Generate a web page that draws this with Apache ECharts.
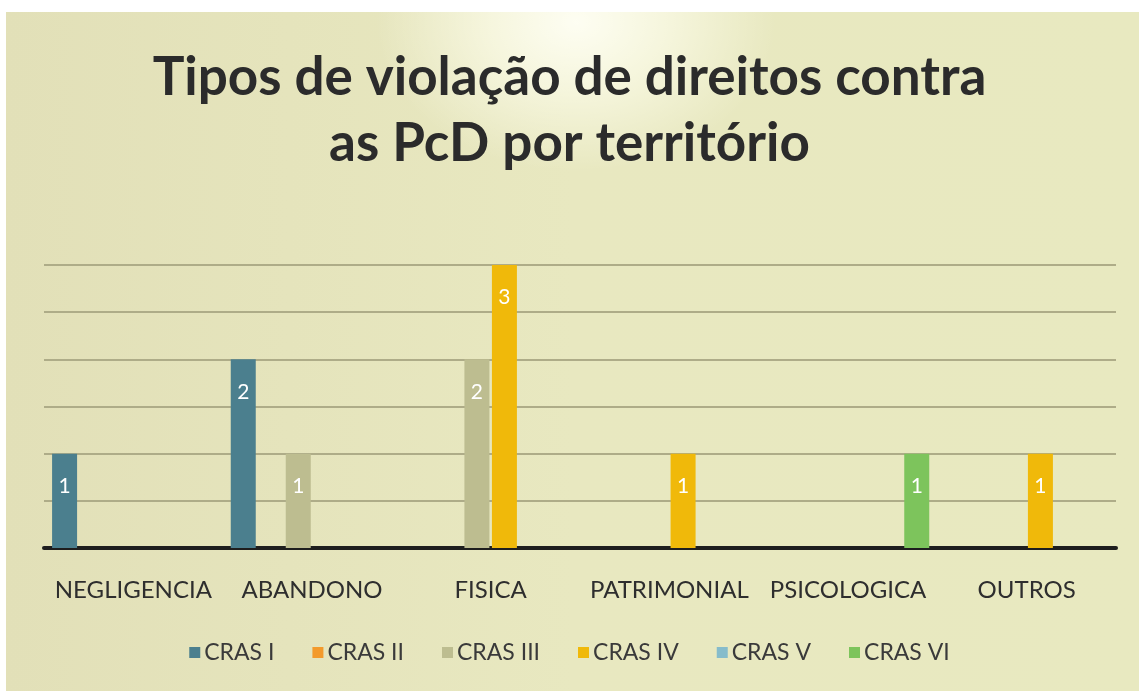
<!DOCTYPE html>
<html>
<head>
<meta charset="utf-8">
<script src="https://cdn.jsdelivr.net/npm/echarts@6/dist/echarts.min.js"></script>
<style>
html,body{margin:0;padding:0;background:#ffffff;width:1139px;height:691px;overflow:hidden;}
#bg{position:absolute;left:6px;top:12px;width:1133px;height:679px;
 background:
  radial-gradient(ellipse 200px 150px at 570px 10px, rgba(255,255,245,0.95) 0%, rgba(255,255,240,0.6) 45%, rgba(255,255,240,0) 100%),
  linear-gradient(90deg, #e2e0b8 0%, #e8e8c0 50%, #e8e9c0 100%);}
#chart{position:absolute;left:0;top:0;width:1139px;height:691px;}
</style>
</head>
<body>
<div id="bg"></div>
<div id="chart"></div>
<script>
const categories = ['NEGLIGENCIA', 'ABANDONO', 'FISICA', 'PATRIMONIAL', 'PSICOLOGICA', 'OUTROS'];
const seriesNames = ['CRAS I', 'CRAS II', 'CRAS III', 'CRAS IV', 'CRAS V', 'CRAS VI'];
const crasI   = [1, 2, null, null, null, null];
const crasII  = [null, null, null, null, null, null];
const crasIII = [null, 1, 2, null, null, null];
const crasIV  = [null, null, 3, 1, null, 1];
const crasV   = [null, null, null, null, null, null];
const crasVI  = [null, null, null, null, 1, null];
const seriesData = [crasI, crasII, crasIII, crasIV, crasV, crasVI];
const colors = ['#4b7f8e', '#f39a2b', '#bdbd90', '#f0b90a', '#86bccb', '#7dc45c'];

const chart = echarts.init(document.getElementById('chart'), null, {renderer: 'canvas'});
const font = 'Lato, "Open Sans", sans-serif';
chart.setOption({
  backgroundColor: 'transparent',
  animation: false,
  color: colors,
  title: {
    text: 'Tipos de violação de direitos contra\nas PcD por território',
    left: 'center',
    top: 40,
    textStyle: {fontFamily: font, fontWeight: 'bold', fontSize: 53, lineHeight: 66, color: '#2b2b2b'}
  },
  legend: {
    data: seriesNames,
    bottom: 22,
    left: 'center',
    itemWidth: 11,
    itemHeight: 11,
    itemGap: 38,
    icon: 'rect',
    textStyle: {fontFamily: font, fontSize: 23, color: '#3a3a3a', padding: [0,0,0,-1]}
  },
  grid: {left: 44, right: 23, top: 265, bottom: 143, containLabel: false},
  xAxis: {
    type: 'category',
    data: categories,
    axisLine: {lineStyle: {color: '#1e1e1e', width: 4}},
    axisTick: {show: false},
    axisLabel: {fontFamily: font, fontSize: 24, color: '#2e2e2e', margin: 30, interval: 0}
  },
  yAxis: {
    type: 'value',
    min: 0, max: 3, interval: 0.5,
    axisLabel: {show: false},
    axisLine: {show: false},
    axisTick: {show: false},
    splitLine: {lineStyle: {color: '#aeac88', width: 2}}
  },
  series: seriesNames.map((name, i) => ({
    name: name,
    type: 'bar',
    data: seriesData[i],
    barWidth: 25,
    barGap: '10%',
    label: {
      show: true,
      position: 'insideTop',
      distance: 22,
      color: '#ffffff',
      fontFamily: font,
      fontSize: 21
    }
  }))
});
</script>
</body>
</html>
